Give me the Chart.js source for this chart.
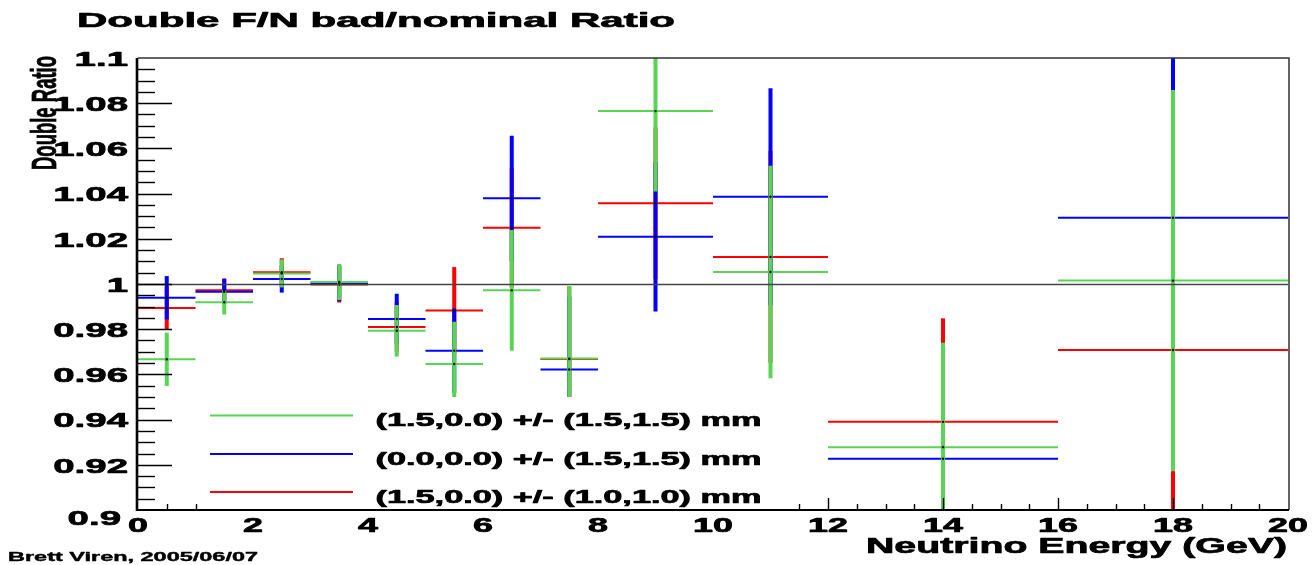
<!DOCTYPE html>
<html>
<head>
<meta charset="utf-8">
<title>Double F/N bad/nominal Ratio</title>
<script src="https://cdn.jsdelivr.net/npm/chart.js@4.4.1/dist/chart.umd.min.js"></script>
<style>
  html, body { margin: 0; padding: 0; background: #ffffff; }
  canvas { display: block; }
</style>
</head>
<body>
<canvas id="ratio" width="1314" height="565"></canvas>
<script>
// Energy bins (GeV): centre and half width
const binCenters    = [0.5, 1.5, 2.5, 3.5, 4.5, 5.5, 6.5, 7.5, 9, 11, 14, 18];
const binHalfWidths = [0.5, 0.5, 0.5, 0.5, 0.5, 0.5, 0.5, 0.5, 1, 1, 2, 2];

// (1.5,0.0) +/- (1.5,1.5) mm
const greenValues = [0.9667, 0.9919, 1.0047, 1.0009, 0.9793, 0.9646, 0.9972, 0.9670, 1.0765, 1.0053, 0.9278, 1.0015];
const greenErrors = [0.0118, 0.0054, 0.0062, 0.0080, 0.0114, 0.0187, 0.0267, 0.0321, 0.0356, 0.0470, 0.0462, 0.0843];

// (0.0,0.0) +/- (1.5,1.5) mm
const blueValues  = [0.9939, 0.9966, 1.0022, 1.0004, 0.9845, 0.9705, 1.0379, 0.9622, 1.0209, 1.0386, 0.9227, 1.0293];
const blueErrors  = [0.0096, 0.0056, 0.0060, 0.0080, 0.0112, 0.0187, 0.0277, 0.0322, 0.0331, 0.0480, 0.0459, 0.0842];

// (1.5,0.0) +/- (1.0,1.0) mm
const redValues   = [0.9894, 0.9972, 1.0052, 0.9998, 0.9810, 0.9883, 1.0249, 0.9668, 1.0357, 1.0120, 0.9390, 0.9708];
const redErrors   = [0.0094, 0.0053, 0.0062, 0.0080, 0.0112, 0.0192, 0.0265, 0.0320, 0.0336, 0.0468, 0.0458, 0.0805];

const seriesLabels = ['(1.5,0.0) +/- (1.5,1.5) mm', '(0.0,0.0) +/- (1.5,1.5) mm', '(1.5,0.0) +/- (1.0,1.0) mm'];
const seriesColors = ['#59d454', '#0000ff', '#ff0000'];

const xTickLabels = ['0', '2', '4', '6', '8', '10', '12', '14', '16', '18', '20'];
const yTickLabels = ['0.9', '0.92', '0.94', '0.96', '0.98', '1', '1.02', '1.04', '1.06', '1.08', '1.1'];

const titleText = 'Double F/N bad/nominal Ratio';
const xTitleText = 'Neutrino Energy (GeV)';
const yTitleText = 'Double Ratio';
const signatureText = 'Brett Viren, 2005/06/07';

const FONT = '"Liberation Sans", Arial, Helvetica, sans-serif';

const series = [
  { label: seriesLabels[0], color: seriesColors[0], values: greenValues, errors: greenErrors },
  { label: seriesLabels[1], color: seriesColors[1], values: blueValues,  errors: blueErrors  },
  { label: seriesLabels[2], color: seriesColors[2], values: redValues,   errors: redErrors   }
];
// painted back to front: red, blue, green on top
const paintOrder = [2, 1, 0];

function toPoints(values) {
  return binCenters.map((c, i) => ({ x: c, y: values[i] }));
}

// heavy, wide lettering: horizontally scaled text with a thin outline
function drawWide(ctx, str, x, y, size, sx, align, baseline, weight) {
  ctx.save();
  ctx.font = 'bold ' + size + 'px ' + FONT;
  ctx.textAlign = align;
  ctx.textBaseline = baseline || 'alphabetic';
  ctx.translate(x, y);
  ctx.scale(sx, 1);
  ctx.fillStyle = '#000';
  ctx.fillText(str, 0, 0);
  ctx.strokeStyle = '#000';
  ctx.lineJoin = 'round';
  ctx.lineWidth = (weight === undefined) ? 0.7 : weight;
  if (ctx.lineWidth > 0) ctx.strokeText(str, 0, 0);
  ctx.restore();
}
function drawFitted(ctx, str, x, y, size, width, align, baseline, weight) {
  ctx.save();
  ctx.font = 'bold ' + size + 'px ' + FONT;
  const sx = width / ctx.measureText(str).width;
  ctx.restore();
  drawWide(ctx, str, x, y, size, sx, align, baseline, weight);
}

const errorCrosses = {
  id: 'errorCrosses',
  beforeDatasetsDraw(chart) {
    const { ctx, chartArea: a, scales: { x, y } } = chart;
    ctx.save();
    ctx.beginPath();
    ctx.rect(a.left, a.top, a.right - a.left, a.bottom - a.top);
    ctx.clip();
    ctx.lineCap = 'butt';
    paintOrder.forEach(si => {
      const s = series[si];
      ctx.strokeStyle = s.color;
      binCenters.forEach((c, i) => {
        const v = s.values[i], e = s.errors[i], hw = binHalfWidths[i];
        const py = y.getPixelForValue(v);
        ctx.lineWidth = 2;
        ctx.beginPath();
        ctx.moveTo(x.getPixelForValue(c - hw), py);
        ctx.lineTo(x.getPixelForValue(c + hw), py);
        ctx.stroke();
        const px = x.getPixelForValue(c);
        ctx.lineWidth = 4;
        ctx.beginPath();
        ctx.moveTo(px, y.getPixelForValue(v + e));
        ctx.lineTo(px, y.getPixelForValue(v - e));
        ctx.stroke();
      });
    });
    ctx.restore();
  },
  afterDatasetsDraw(chart) {
    const { ctx, chartArea: a, scales: { x, y } } = chart;
    ctx.save();

    // unity reference line
    const p1 = Math.round(y.getPixelForValue(1)) + 0.5;
    ctx.strokeStyle = '#444';
    ctx.lineWidth = 1.3;
    ctx.beginPath();
    ctx.moveTo(a.left, p1);
    ctx.lineTo(a.right, p1);
    ctx.stroke();

    // legend panel
    const lgLeft = 205, lgRight = 786, lgTop = 397, lgBottom = a.bottom - 1.5;
    ctx.fillStyle = '#ffffff';
    ctx.fillRect(lgLeft, lgTop, lgRight - lgLeft, lgBottom - lgTop);
    const rowY = [415.5, 454, 492];
    series.forEach((s, i) => {
      ctx.strokeStyle = s.color;
      ctx.lineWidth = 2;
      ctx.beginPath();
      ctx.moveTo(210, rowY[i]);
      ctx.lineTo(353, rowY[i]);
      ctx.stroke();
      drawFitted(ctx, s.label, 375.5, rowY[i] + 10.5, 18.5, 386, 'left');
    });

    // frame
    ctx.strokeStyle = '#333';
    ctx.lineWidth = 1.5;
    ctx.beginPath();
    ctx.moveTo(a.left, a.top);
    ctx.lineTo(a.right + 1, a.top);
    ctx.lineTo(a.right + 1, a.bottom);
    ctx.stroke();
    ctx.strokeStyle = '#000';
    ctx.lineWidth = 2;
    ctx.beginPath();
    ctx.moveTo(a.left - 1, a.bottom);
    ctx.lineTo(a.right + 1, a.bottom);
    ctx.stroke();
    ctx.lineWidth = 2.6;
    ctx.beginPath();
    ctx.moveTo(a.left - 1, a.top);
    ctx.lineTo(a.left - 1, a.bottom + 1);
    ctx.stroke();

    // y ticks: major every 0.02, four divisions
    ctx.lineWidth = 1.4;
    ctx.strokeStyle = '#000';
    const yMajors = yTickLabels.map(Number);
    const yStep = (yMajors[1] - yMajors[0]) / 4;
    for (let k = 1; k < (yMajors.length - 1) * 4; k++) {
      const v = yMajors[0] + k * yStep;
      const py = Math.round(y.getPixelForValue(v)) + 0.5;
      const len = (k % 4 === 0) ? 34 : 17;
      ctx.beginPath();
      ctx.moveTo(a.left, py);
      ctx.lineTo(a.left + len, py);
      ctx.stroke();
    }
    // x ticks: major every 2 GeV, four divisions
    const xMajors = xTickLabels.map(Number);
    const xStep = (xMajors[1] - xMajors[0]) / 4;
    for (let k = 1; k < (xMajors.length - 1) * 4; k++) {
      const v = xMajors[0] + k * xStep;
      const px = Math.round(x.getPixelForValue(v)) + 0.5;
      if (px > lgLeft && px < lgRight) continue;
      const len = (k % 4 === 0) ? 12 : 6;
      ctx.beginPath();
      ctx.moveTo(px, a.bottom);
      ctx.lineTo(px, a.bottom - len);
      ctx.stroke();
    }

    // y tick labels
    yTickLabels.forEach((t, i) => {
      const py = y.getPixelForValue(Number(t));
      if (i === 0) {
        drawWide(ctx, t, 121, py + 9, 21, 1.83, 'right', 'middle');
      } else {
        drawWide(ctx, t, 128, py + 2, 21, 1.83, 'right', 'middle');
      }
    });
    // x tick labels
    xTickLabels.forEach(t => {
      const px = x.getPixelForValue(Number(t));
      drawWide(ctx, t, px, 531.5, 19.5, 1.84, 'center');
    });

    // titles
    drawFitted(ctx, titleText, 77, 26.8, 20.5, 598, 'left');
    drawFitted(ctx, xTitleText, 1287, 552.5, 21.8, 421, 'right');
    drawFitted(ctx, signatureText, 8, 561, 12.5, 250, 'left', 'alphabetic', 0.4);

    // vertical axis title, narrow and tall
    ctx.save();
    ctx.translate(55.5, 170);
    ctx.rotate(-Math.PI / 2);
    ctx.font = 'bold 35px ' + FONT;
    const w = ctx.measureText(yTitleText).width;
    ctx.scale(114 / w, 1);
    ctx.fillStyle = '#000';
    ctx.strokeStyle = '#000';
    ctx.lineWidth = 0.8;
    ctx.textAlign = 'left';
    ctx.textBaseline = 'alphabetic';
    ctx.fillText(yTitleText, 0, 0);
    ctx.strokeText(yTitleText, 0, 0);
    ctx.restore();

    ctx.restore();
  }
};

new Chart(document.getElementById('ratio'), {
  type: 'scatter',
  data: {
    datasets: series.map(s => ({
      label: s.label,
      data: toPoints(s.values),
      pointRadius: 1.2,
      pointHoverRadius: 1.2,
      pointBackgroundColor: '#000',
      pointBorderWidth: 0,
      showLine: false
    }))
  },
  options: {
    responsive: false,
    animation: false,
    devicePixelRatio: 1,
    layout: { padding: { left: 138, right: 26, top: 58, bottom: 55 } },
    plugins: { legend: { display: false }, tooltip: { enabled: false }, title: { display: false } },
    scales: {
      x: { type: 'linear', min: 0, max: 20, display: false },
      y: { type: 'linear', min: 0.9, max: 1.1, display: false }
    }
  },
  plugins: [errorCrosses]
});
</script>
</body>
</html>
